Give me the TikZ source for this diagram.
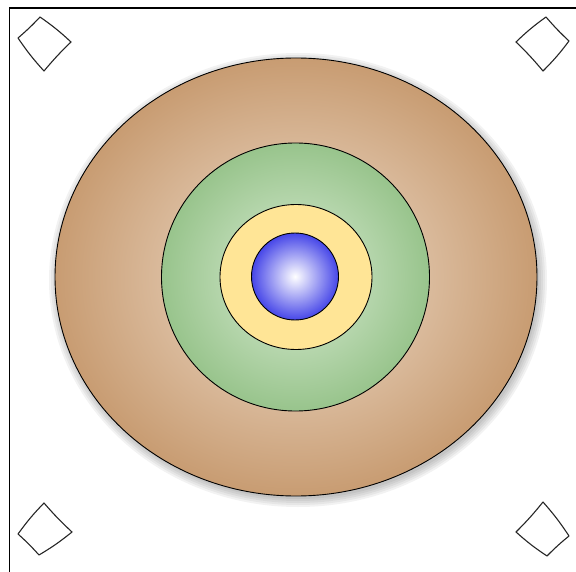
\documentclass[tikz,border=0pt]{standalone}
\definecolor{brownout}{RGB}{200,156,114}
\definecolor{brownin}{RGB}{240,224,208}
\definecolor{greenout}{RGB}{152,196,140}
\definecolor{greenin}{RGB}{218,236,212}
\definecolor{yell}{RGB}{255,229,150}
\definecolor{blueout}{RGB}{70,70,232}
\begin{document}
\begin{tikzpicture}[x=1pt,y=-1pt,
  ring/.style={draw=black,line width=0.9pt},
  kite/.style={draw=black!85,line width=1.1pt,fill=white,line join=round},
  shade/.style={fill=black,opacity=0.05,draw=none}]
\useasboundingbox (0,0) rectangle (576,572);
\draw[line width=1.4pt] (9.5,572) -- (9.5,8) -- (576,8);
% kites
\draw[kite] (40,17) to[bend left=4] (71,42) to[bend right=3] (44,71) to[bend left=4] (18,38) to[bend right=3] cycle;
\draw[kite] (546,17) to[bend right=3] (569,41) to[bend left=4] (543,71) to[bend right=3] (516,42) to[bend left=4] cycle;
\draw[kite] (44,503) to[bend right=3] (72,532) to[bend left=4] (39,555) to[bend right=3] (18,534) to[bend left=4] cycle;
\draw[kite] (543,502) to[bend left=4] (569,536) to[bend right=3] (547,556) to[bend left=4] (516,532) to[bend right=3] cycle;
% soft shadow
\foreach \d in {8,6,4,2,0}
  \path[shade] (298,280) ellipse [x radius=241+\d,y radius=219+\d];
% rings
\path[ring,inner color=brownin,outer color=brownout]
  (296,277) ellipse [x radius=241,y radius=219];
\path[ring,inner color=greenin,outer color=greenout] (295.5,277) circle [radius=134];
\path[ring,fill=yell] (296,277) ellipse [x radius=76,y radius=72.5];
\path[ring,inner color=white,outer color=blueout] (295,276.5) circle [radius=43.5];
\end{tikzpicture}
\end{document}
